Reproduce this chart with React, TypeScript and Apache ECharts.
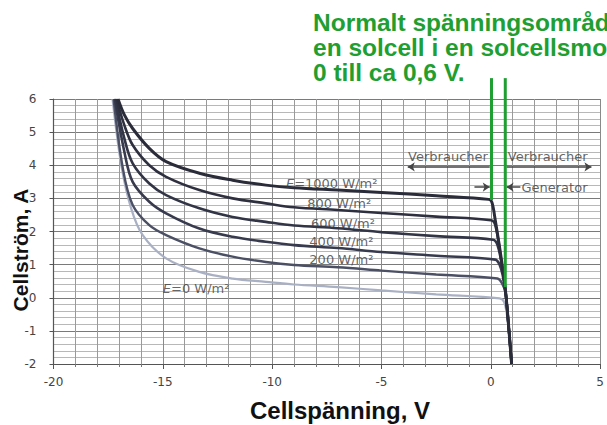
import { useEffect, useRef } from "react";
import * as echarts from "echarts";

// I–V curves of a solar cell, [voltage V, current A]
const curve1000 = [[-17.05, 6], [-16.76, 5.52], [-16.38, 5.11], [-15.62, 4.51], [-14.85, 4.11], [-13.33, 3.76], [-11.81, 3.55], [-10.29, 3.4], [-9, 3.32], [-7, 3.25], [-5, 3.18], [-2.5, 3.08], [-0.1, 2.97], [0.05, 2.88], [0.2, 2.35], [0.45, 1.3], [0.67, 0.2], [0.8, -0.75], [0.95, -2]];
const curve800 = [[-17.12, 6], [-16.76, 5.21], [-16.38, 4.61], [-15.62, 4.0], [-14.85, 3.65], [-13.33, 3.25], [-11.81, 3.0], [-10.29, 2.85], [-9, 2.73], [-7, 2.65], [-5, 2.56], [-2.5, 2.45], [0, 2.34], [0.2, 2.2], [0.45, 1.25], [0.67, 0.2], [0.8, -0.75], [0.95, -2]];
const curve600 = [[-17.17, 6], [-16.76, 4.81], [-16.38, 4.06], [-15.62, 3.45], [-14.85, 3.1], [-13.33, 2.7], [-11.81, 2.44], [-10.29, 2.29], [-9, 2.18], [-7, 2.1], [-5, 1.98], [-2.5, 1.86], [0.1, 1.75], [0.3, 1.6], [0.5, 1.0], [0.67, 0.2], [0.8, -0.75], [0.95, -2]];
const curve400 = [[-17.2, 6], [-16.76, 4.41], [-16.38, 3.5], [-15.62, 2.9], [-14.85, 2.55], [-13.33, 2.09], [-11.81, 1.84], [-10.29, 1.69], [-9, 1.59], [-7, 1.5], [-5, 1.38], [-2.5, 1.27], [0.2, 1.15], [0.4, 1.0], [0.55, 0.65], [0.67, 0.2], [0.8, -0.75], [0.95, -2]];
const curve200 = [[-17.25, 6], [-16.83, 3.91], [-16.38, 2.8], [-15.62, 2.19], [-14.85, 1.89], [-13.33, 1.49], [-11.81, 1.24], [-10.29, 1.08], [-9, 0.99], [-7, 0.92], [-5, 0.82], [-2.5, 0.7], [0.3, 0.58], [0.5, 0.45], [0.67, 0.15], [0.8, -0.78], [0.95, -2]];
const curve0 = [[-17.3, 6], [-16.9, 4.0], [-16.45, 2.7], [-15.92, 1.89], [-14.85, 1.19], [-13.33, 0.78], [-11.81, 0.58], [-10.29, 0.48], [-9, 0.4], [-7, 0.32], [-5, 0.22], [-2.5, 0.1], [0.4, -0.02], [0.6, -0.12], [0.72, -0.45], [0.83, -1.05], [0.95, -2]];

const curves = [curve1000, curve800, curve600, curve400, curve200, curve0];
const curveColors = ["#2a2c3a", "#2e3040", "#323546", "#383b4e", "#4c5064", "#aab0c4"];
const curveWidths = [3, 2.6, 2.6, 2.6, 2.4, 2.2];

// curve labels and their anchor points [V, A]
const curveLabelTexts = ["{i|E}=1000 W/m²", "800 W/m²", "600 W/m²", "400 W/m²", "200 W/m²", "{i|E}=0 W/m²"];
const curveLabelAt = [[-9.37, 3.45], [-8.4, 2.86], [-8.23, 2.25], [-8.3, 1.69], [-8.3, 1.15], [-15.0, 0.29]];

// region annotations
const regionTexts = ["Verbraucher", "Verbraucher"];
const regionTextAt = [[-1.96, 4.25], [2.6, 4.25]];
const generatorText = "Generator";
const generatorAt = [1.4, 3.34];
const arrowLines = [
  [[-0.05, 3.95], [-3.8, 3.95]],
  [[0.72, 3.95], [4.6, 3.95]],
  [[-0.75, 3.34], [-0.05, 3.34]],
  [[1.35, 3.34], [0.72, 3.34]],
];

// normal operating range markers (green)
const greenLeft = [[0.03, 6.63], [0.03, 2.95]];
const greenRight = [[0.66, 6.63], [0.66, 0.32]];
const noteText = "Normalt spänningsområde för\nen solcell i en solcellsmodul är\n0 till ca 0,6 V.";

const xMin = -20, xMax = 5, xStep = 5;
const yMin = -2, yMax = 6, yStep = 1;

const GREEN = "#1f9e32";
const TXT = "#3c3c3c";

export default function App() {
  const ref = useRef<HTMLDivElement>(null);
  useEffect(() => {
    if (!ref.current) return;
    const chart = echarts.init(ref.current, undefined, { renderer: "svg" });
    const labelFont = { fontFamily: "DejaVu Sans", fontSize: 13, color: TXT };
    const series: any[] = curves.map((c, i) => ({
      type: "line",
      data: c,
      smooth: 0.35,
      symbol: "none",
      lineStyle: { color: curveColors[i], width: curveWidths[i] },
      z: 10 - i,
    }));
    series.push({
      type: "scatter",
      symbolSize: 0,
      silent: true,
      z: 20,
      data: curveLabelTexts.map((t, i) => ({
        value: curveLabelAt[i],
        label: {
          show: true,
          position: "right",
          distance: 0,
          formatter: t,
          ...labelFont,
          rich: { i: { ...labelFont, fontStyle: "italic" } },
        },
      })),
    });
    series.push({
      type: "scatter",
      symbolSize: 0,
      silent: true,
      z: 20,
      data: [
        ...regionTexts.map((t, i) => ({
          value: regionTextAt[i],
          label: { show: true, position: "inside", formatter: t, ...labelFont },
        })),
        {
          value: generatorAt,
          label: { show: true, position: "right", distance: 0, formatter: generatorText, ...labelFont },
        },
      ],
      markLine: {
        silent: true,
        symbol: ["none", "arrow"],
        symbolSize: 7,
        label: { show: false },
        lineStyle: { color: "#444", width: 1.5, type: "solid" },
        data: arrowLines.map((l) => [{ coord: l[0] }, { coord: l[1] }]),
      },
    });
    [greenLeft, greenRight].forEach((g) =>
      series.push({
        type: "line",
        data: g,
        clip: false,
        symbol: "none",
        z: 30,
        lineStyle: { color: GREEN, width: 3 },
      })
    );

    chart.setOption({
      animation: false,
      backgroundColor: "#ffffff",
      grid: { left: 53.5, right: 5, top: 99, bottom: 61, containLabel: false },
      xAxis: {
        type: "value",
        min: xMin,
        max: xMax,
        interval: xStep,
        axisLine: { show: true, onZero: false, lineStyle: { color: "#555", width: 1.2 } },
        axisTick: { show: true, length: 5, lineStyle: { color: "#555" } },
        minorTick: { show: true, splitNumber: 5, length: 3, lineStyle: { color: "#777" } },
        axisLabel: { fontFamily: "DejaVu Sans", fontSize: 12, color: "#444", margin: 12 },
        splitLine: { show: true, lineStyle: { color: "#8a8a8a", width: 1 } },
        minorSplitLine: { show: true, lineStyle: { color: "#9a9a9a", width: 1 } },
      },
      yAxis: {
        type: "value",
        min: yMin,
        max: yMax,
        interval: yStep,
        axisLine: { show: true, onZero: false, lineStyle: { color: "#555", width: 1.2 } },
        axisTick: { show: true, length: 4, lineStyle: { color: "#555" } },
        minorTick: { show: false, splitNumber: 5 },
        axisLabel: { fontFamily: "DejaVu Sans", fontSize: 12, color: "#444", margin: 17 },
        splitLine: { show: true, lineStyle: { color: "#7a7a7a", width: 1 } },
        minorSplitLine: { show: true, lineStyle: { color: "#b8b8b8", width: 1 } },
      },
      graphic: [
        {
          type: "text",
          left: 313,
          top: 10,
          z: 50,
          style: {
            text: noteText,
            fill: GREEN,
            font: "bold 24.5px 'Liberation Sans', Arial, sans-serif",
            lineHeight: 25,
          },
        },
        {
          type: "text",
          x: 20,
          y: 250,
          rotation: Math.PI / 2,
          style: {
            text: "Cellström, A",
            fill: "#111",
            font: "bold 21px 'Liberation Sans', Arial, sans-serif",
            textAlign: "center",
            textVerticalAlign: "middle",
          },
        },
        {
          type: "text",
          x: 340,
          y: 410,
          style: {
            text: "Cellspänning, V",
            fill: "#111",
            font: "bold 24px 'Liberation Sans', Arial, sans-serif",
            textAlign: "center",
            textVerticalAlign: "middle",
          },
        },
      ],
      series,
    });
    return () => chart.dispose();
  }, []);
  return (
    <div
      ref={ref}
      style={{ position: "absolute", left: 0, top: 0, width: 607, height: 425, overflow: "hidden" }}
    />
  );
}
